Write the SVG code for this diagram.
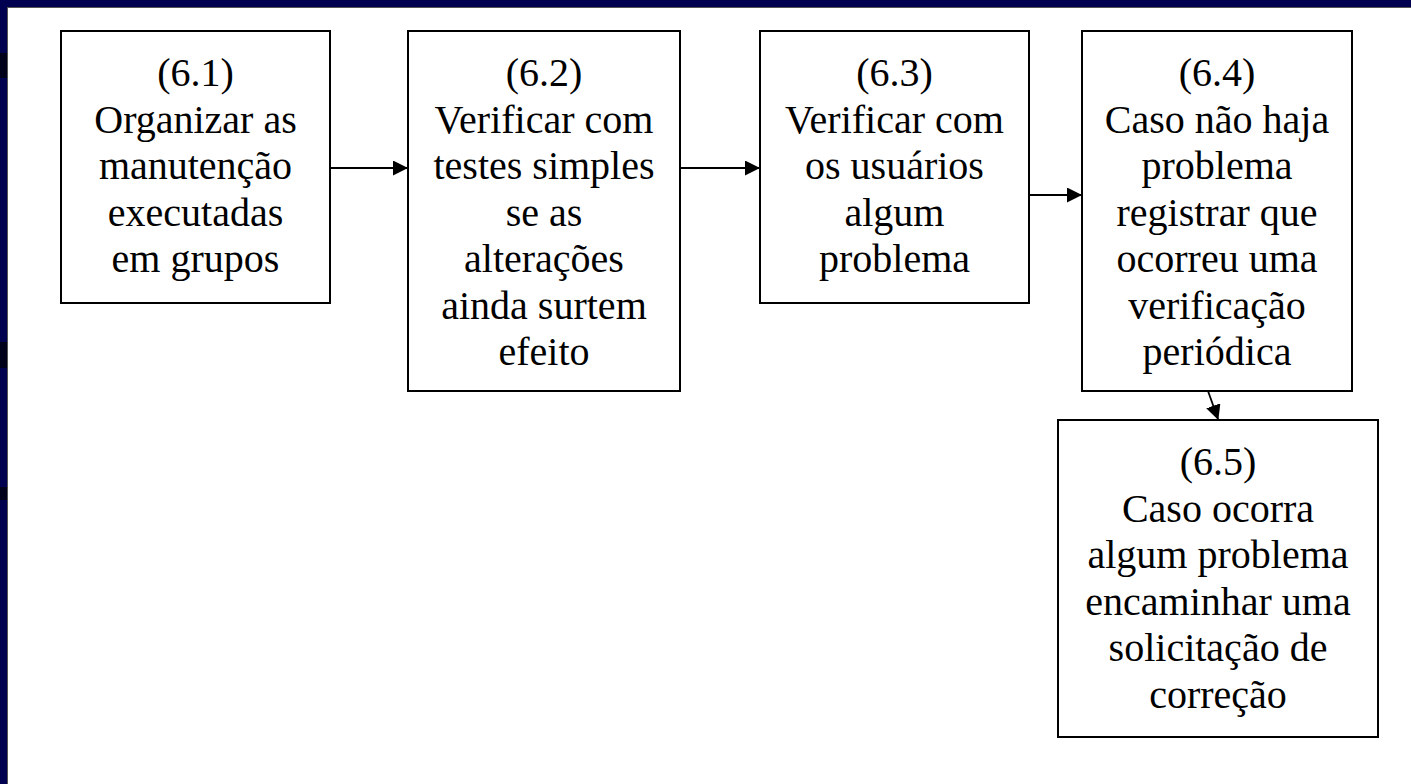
<svg xmlns="http://www.w3.org/2000/svg" width="1411" height="784" viewBox="0 0 1411 784">
<defs>
<style>
.box{fill:#fff;stroke:#000;stroke-width:2}
.t{font-family:"Liberation Serif","Times New Roman",serif;font-size:40px;fill:#000;text-anchor:middle}
.c{stroke:#000;stroke-width:1.8;fill:none}
</style>
<marker id="ah" markerWidth="15" markerHeight="15" refX="14" refY="7.5" orient="auto" markerUnits="userSpaceOnUse">
<path d="M0,0 L15,7.5 L0,15 Z" fill="#000"/>
</marker>
</defs>
<rect width="1411" height="784" fill="#fff"/>
<rect x="0" y="0" width="1411" height="7" fill="#000050"/>
<rect x="0" y="0" width="7" height="784" fill="#000050"/>
<rect x="0" y="53" width="7" height="25" fill="#00001a"/>
<rect x="0" y="342" width="7" height="26" fill="#00001a"/>
<rect x="0" y="487" width="7" height="13" fill="#00001a"/>
<line x1="7.5" y1="7" x2="7.5" y2="784" stroke="#555" stroke-width="1"/>
<line x1="7" y1="7.5" x2="1411" y2="7.5" stroke="#555" stroke-width="1"/>

<g id="connectors">
<line class="c" x1="330" y1="168" x2="407" y2="168" marker-end="url(#ah)"/>
<line class="c" x1="680" y1="168" x2="759" y2="168" marker-end="url(#ah)"/>
<line class="c" x1="1029" y1="195" x2="1081" y2="195" marker-end="url(#ah)"/>
<line class="c" x1="1208" y1="391" x2="1218" y2="419" marker-end="url(#ah)"/>
</g>

<g id="n61">
<rect class="box" x="61" y="31" width="269" height="272"/>
<text class="t" x="195.5" y="86">(6.1)</text>
<text class="t" x="195.5" y="132.5">Organizar as</text>
<text class="t" x="195.5" y="179">manutenção</text>
<text class="t" x="195.5" y="225.5">executadas</text>
<text class="t" x="195.5" y="272">em grupos</text>
</g>

<g id="n62">
<rect class="box" x="408" y="31" width="272" height="360"/>
<text class="t" x="544" y="86">(6.2)</text>
<text class="t" x="544" y="132.5">Verificar com</text>
<text class="t" x="544" y="179">testes simples</text>
<text class="t" x="544" y="225.5">se as</text>
<text class="t" x="544" y="272">alterações</text>
<text class="t" x="544" y="318.5">ainda surtem</text>
<text class="t" x="544" y="365">efeito</text>
</g>

<g id="n63">
<rect class="box" x="760" y="31" width="269" height="272"/>
<text class="t" x="894.5" y="86">(6.3)</text>
<text class="t" x="894.5" y="132.5">Verificar com</text>
<text class="t" x="894.5" y="179">os usuários</text>
<text class="t" x="894.5" y="225.5">algum</text>
<text class="t" x="894.5" y="272">problema</text>
</g>

<g id="n64">
<rect class="box" x="1082" y="31" width="270" height="360"/>
<text class="t" x="1217" y="86">(6.4)</text>
<text class="t" x="1217" y="132.5">Caso não haja</text>
<text class="t" x="1217" y="179">problema</text>
<text class="t" x="1217" y="225.5">registrar que</text>
<text class="t" x="1217" y="272">ocorreu uma</text>
<text class="t" x="1217" y="318.5">verificação</text>
<text class="t" x="1217" y="365">periódica</text>
</g>

<g id="n65">
<rect class="box" x="1058" y="420" width="320" height="317"/>
<text class="t" x="1218" y="475">(6.5)</text>
<text class="t" x="1218" y="521.5">Caso ocorra</text>
<text class="t" x="1218" y="568">algum problema</text>
<text class="t" x="1218" y="614.5">encaminhar uma</text>
<text class="t" x="1218" y="661">solicitação de</text>
<text class="t" x="1218" y="707.5">correção</text>
</g>
</svg>
